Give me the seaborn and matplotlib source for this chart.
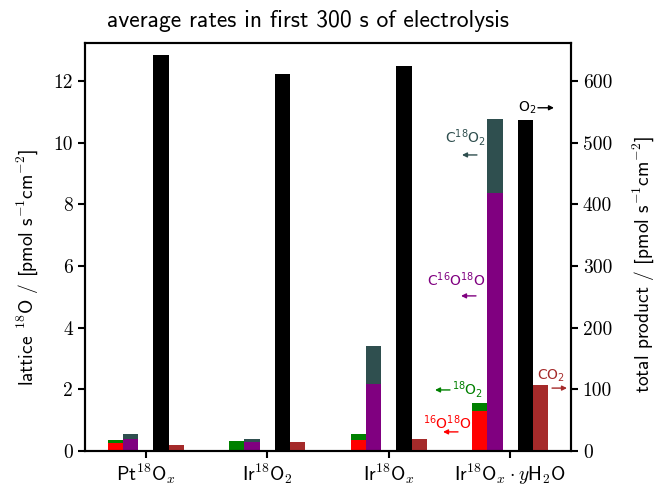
import numpy as np
import pandas as pd
import matplotlib
matplotlib.use("Agg")
import matplotlib.pyplot as plt
import seaborn as sns

# ========== data ==========
samples = ["Pt$^{18}$O$_x$", "Ir$^{18}$O$_2$", "Ir$^{18}$O$_x$", "Ir$^{18}$O$_x\\cdot y$H$_2$O"]
lattice_16o18o = [0.26, 0.01, 0.36, 1.30]   # red, bottom of stack 1
lattice_18o2 = [0.11, 0.31, 0.19, 0.27]     # green, top of stack 1
lattice_c16o18o = [0.39, 0.28, 2.16, 8.36]  # purple, bottom of stack 2
lattice_c18o2 = [0.16, 0.10, 1.24, 2.41]    # darkslategray, top of stack 2
total_o2 = [642, 612, 624, 537]             # right axis
total_co2 = [9, 15, 19.5, 107.5]            # right axis

LEFT_MAX = 13.23
RIGHT_MAX = LEFT_MAX * 50
W = 0.125

plt.rcParams["mathtext.fontset"] = "cm"
plt.rcParams["font.family"] = "cmss10"
plt.rcParams["axes.formatter.use_mathtext"] = True
plt.rcParams["axes.linewidth"] = 1.5
for a in ("x", "y"):
    plt.rcParams[f"{a}tick.major.width"] = 1.5
    plt.rcParams[f"{a}tick.major.size"] = 5
plt.rcParams["xtick.major.pad"] = 2.5
plt.rcParams["font.size"] = 14

pos = np.arange(len(samples))


def bars(ax, offset, values, color):
    df = pd.DataFrame({"pos": pos + offset, "val": values})
    sns.barplot(data=df, x="pos", y="val", native_scale=True, width=W,
                color=color, saturation=1, errorbar=None, linewidth=0, ax=ax)


fig, ax = plt.subplots(figsize=(6.56, 4.86), dpi=100)
fig.subplots_adjust(left=0.1296, right=0.8704, top=0.9115, bottom=0.072)
ax2 = ax.twinx()

# stacked bars: draw the total in the top colour, then the bottom part over it
tot1 = np.add(lattice_16o18o, lattice_18o2)
tot2 = np.add(lattice_c16o18o, lattice_c18o2)
bars(ax, -2 * W, tot1, "green")
bars(ax, -2 * W, lattice_16o18o, "red")
bars(ax, -W, tot2, "darkslategray")
bars(ax, -W, lattice_c16o18o, "purple")
bars(ax2, W, total_o2, "black")
bars(ax2, 2 * W, total_co2, "brown")

ax.set_xlim(-0.5, 3.5)
ax.set_ylim(0, LEFT_MAX)
ax2.set_ylim(0, RIGHT_MAX)
ax.set_xticks(pos, labels=samples)
ax.set_yticks(np.arange(0, 13, 2), labels=[str(v) for v in range(0, 13, 2)], fontfamily="cmr10")
ax2.set_yticks(np.arange(0, 601, 100), labels=[str(v) for v in range(0, 601, 100)], fontfamily="cmr10")
ax.set_xlabel("")
ax.set_ylabel("lattice $^{18}$O / [pmol s$^{-1}$cm$^{-2}$]", y=0.45, labelpad=10)
ax2.set_ylabel("total product / [pmol s$^{-1}$cm$^{-2}$]", y=0.458, labelpad=13)

fig.text(0.47, 0.9444, "average rates in first 300 s of electrolysis", ha="center", va="baseline", fontsize=17)

# annotations with little arrows pointing to the relevant axis
ann = dict(fontsize=10, family="DejaVu Sans", math_fontfamily="dejavusans", ha="center", va="center")


def arrow(x0, x1, y, color):
    ax.annotate("", xy=(x1, y), xytext=(x0, y),
                arrowprops=dict(arrowstyle="-|>", color=color, lw=1, mutation_scale=7, shrinkA=0, shrinkB=0))


ax.text(3.138, 11.13, "O$_2$", color="black", **ann)
arrow(3.228, 3.36, 11.13, "black")
ax.text(2.628, 10.15, "C$^{18}$O$_2$", color="darkslategray", **ann)
arrow(2.726, 2.603, 9.60, "darkslategray")
ax.text(2.553, 5.55, "C$^{16}$O$^{18}$O", color="purple", **ann)
arrow(2.718, 2.595, 5.03, "purple")
ax.text(2.652, 1.98, "$^{18}$O$_2$", color="green", **ann)
arrow(2.504, 2.381, 1.98, "green")
ax.text(2.479, 0.91, "$^{16}$O$^{18}$O", color="red", **ann)
arrow(2.570, 2.447, 0.62, "red")
ax.text(3.335, 2.43, "CO$_2$", color="brown", **ann)
arrow(3.344, 3.467, 2.04, "brown")

fig.savefig("out.png", dpi=100)
